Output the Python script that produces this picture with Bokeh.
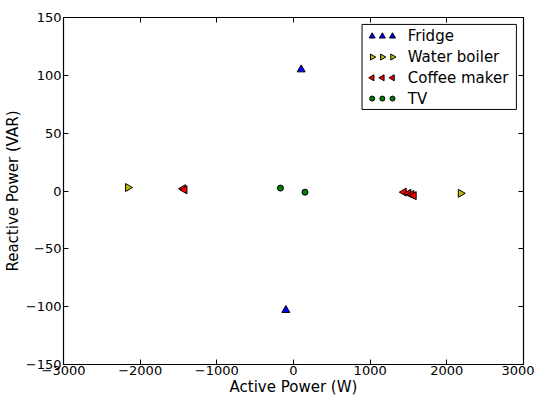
from bokeh.plotting import figure
from bokeh.models import Range1d, LinearAxis, FixedTicker, CustomJSTickFormatter
from bokeh.embed import file_html
from bokeh.resources import INLINE
from bokeh.core.properties import value
import math

# data
fridge_x = [100, -100]
fridge_y = [105, -103]
boiler_x = [-2160, 2180]
boiler_y = [3, -2]
coffee_x = [-1440, -1420, 1440, 1500, 1540, 1570]
coffee_y = [2, 1, -1, -2, -3, -4]
tv_x = [-170, 150]
tv_y = [2.5, -1]

x_ticks = [-3000, -2000, -1000, 0, 1000, 2000, 3000]
y_ticks = [-150, -100, -50, 0, 50, 100, 150]

legend_labels = ["Fridge", "Water boiler", "Coffee maker", "TV"]

FONT = "DejaVu Sans"

p = figure(width=534, height=398, output_backend="svg", toolbar_location=None,
           x_range=Range1d(-3000, 3000), y_range=Range1d(-150, 150),
           min_border_top=17, min_border_right=11, min_border_left=12, min_border_bottom=0)
p.grid.visible = False
p.outline_line_color = "black"
p.outline_line_width = 1.2

fmt = CustomJSTickFormatter(code="return tick.toFixed(0).replace('-', '\u2212');")
blank = CustomJSTickFormatter(code="return '';")

for ax in [p.xaxis[0], p.yaxis[0]]:
    ax.major_tick_in = 5
    ax.major_tick_out = 0
    ax.minor_tick_line_color = None
    ax.formatter = fmt
    ax.major_label_text_font = FONT
    ax.major_label_text_font_size = "13px"
    ax.major_label_text_color = "black"
    ax.axis_label_text_font = FONT
    ax.axis_label_text_font_size = "15px"
    ax.axis_label_text_font_style = "normal"
    ax.axis_label_text_color = "black"
    ax.axis_line_color = "black"
    ax.major_label_standoff = 2
    ax.axis_label_standoff = 1

p.xaxis[0].major_label_standoff = 1
p.xaxis[0].axis_label_standoff = 0
p.xaxis[0].ticker = FixedTicker(ticks=x_ticks)
p.yaxis[0].ticker = FixedTicker(ticks=y_ticks)
p.xaxis[0].axis_label = "Active Power (W)"
p.yaxis[0].axis_label = "Reactive Power (VAR)"

top = LinearAxis(ticker=FixedTicker(ticks=x_ticks), formatter=blank,
                 major_tick_in=5, major_tick_out=0, minor_tick_line_color=None,
                 major_label_standoff=0)
right = LinearAxis(ticker=FixedTicker(ticks=y_ticks), formatter=blank,
                   major_tick_in=5, major_tick_out=0, minor_tick_line_color=None,
                   major_label_standoff=0)
p.add_layout(top, "above")
p.add_layout(right, "right")

p.scatter(fridge_x, fridge_y, marker="triangle", size=8, fill_color="#0000ff", line_color="black")
p.scatter(boiler_x, boiler_y, marker="triangle", angle=-math.pi/2, size=8, fill_color="#bfbf00", line_color="black")
p.scatter(coffee_x, coffee_y, marker="triangle", angle=math.pi/2, size=8, fill_color="#ff0000", line_color="black")
p.scatter(tv_x, tv_y, marker="circle", size=6, fill_color="#008000", line_color="black")

# legend drawn in frame-pixel space (layout, not data)
p.extra_x_ranges = {"fx": Range1d(0, 453)}
p.extra_y_ranges = {"fy": Range1d(351, 0)}
p.quad(left=294, right=446, top=7, bottom=93, fill_color="white", line_color="black",
       line_width=1, x_range_name="fx", y_range_name="fy")
rows = [19, 40, 61, 82]
mx = [304, 314, 324]
styles = [dict(marker="triangle", angle=0, fill_color="#0000ff", size=6),
          dict(marker="triangle", angle=-math.pi/2, fill_color="#bfbf00", size=6),
          dict(marker="triangle", angle=math.pi/2, fill_color="#ff0000", size=6),
          dict(marker="circle", angle=0, fill_color="#008000", size=5)]
for ry, st in zip(rows, styles):
    p.scatter(mx, [ry] * 3, line_color="black", x_range_name="fx", y_range_name="fy", **st)
p.text(x=[339] * 4, y=rows, text=legend_labels, text_font=value(FONT), text_font_size="15px",
       text_baseline="middle", text_color="black", x_range_name="fx", y_range_name="fy")

open("out.html", "w").write(file_html(p, INLINE))
